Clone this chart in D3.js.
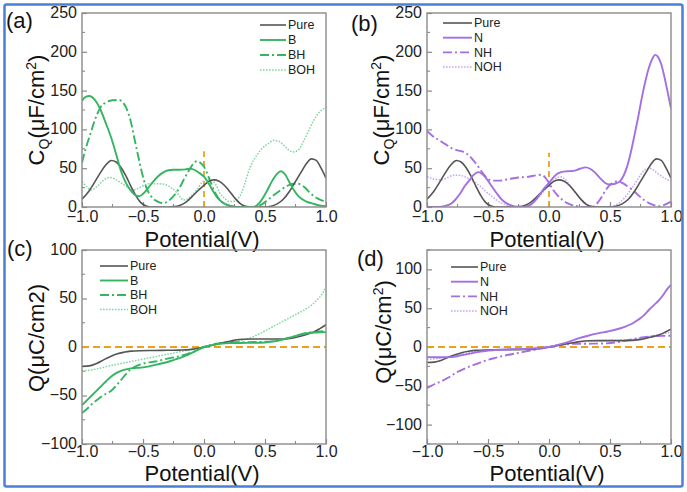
<!DOCTYPE html>
<html><head><meta charset="utf-8">
<script src="https://cdn.jsdelivr.net/npm/d3@7"></script>
<style>
html,body{margin:0;padding:0;background:#fff;}
svg{display:block;font-family:"Liberation Sans",Arial,sans-serif;}
</style></head>
<body>
<svg id="chart" width="687" height="492"></svg>
<script>
// ---------------- DATA ----------------
const xTickValues = [-1.0, -0.5, 0.0, 0.5, 1.0];
const cqTickValues = [0, 50, 100, 150, 200, 250];
const qTickValuesC = [-100, -50, 0, 50, 100];
const qTickValuesD = [-100, -50, 0, 50, 100];
const seriesNamesB = ["Pure", "B", "BH", "BOH"];
const seriesNamesN = ["Pure", "N", "NH", "NOH"];
const markerCqTopA = 72;
const markerCqTopB = 70;

const cqPure = [[-1,10],[-0.95,19],[-0.9,31],[-0.85,44],[-0.8,55],[-0.76,60],[-0.72,58],[-0.68,51],[-0.64,40],[-0.6,27],[-0.56,15],[-0.52,6],[-0.48,1.5],[-0.44,0],[-0.3,0],[-0.24,0.5],[-0.2,2],[-0.15,6],[-0.1,13],[-0.05,21],[0,28],[0.04,33],[0.08,35],[0.12,33.5],[0.16,29],[0.2,22],[0.25,12],[0.3,4],[0.35,0.5],[0.4,0],[0.5,0],[0.55,1],[0.6,4],[0.65,10],[0.7,20],[0.75,33],[0.8,46],[0.84,56],[0.88,62],[0.92,60],[0.96,50],[1,37]];
const cqB = [[-1,137],[-0.97,142],[-0.94,143],[-0.9,139],[-0.85,126],[-0.8,106],[-0.76,89],[-0.72,68],[-0.68,46],[-0.64,31],[-0.6,21],[-0.56,15],[-0.53,14],[-0.5,17],[-0.46,24],[-0.42,32],[-0.38,39],[-0.34,44],[-0.3,47],[-0.25,48],[-0.2,48],[-0.15,48.5],[-0.12,49.5],[-0.08,48],[-0.04,44],[0,39],[0.04,30],[0.08,19],[0.12,10],[0.16,5],[0.2,2],[0.25,0.5],[0.3,0],[0.4,0],[0.44,3],[0.48,11],[0.52,22],[0.56,34],[0.6,43],[0.63,46],[0.66,43],[0.7,32],[0.74,21],[0.78,13],[0.84,7],[0.9,4],[0.95,2],[1,1]];
const cqBH = [[-1,57],[-0.97,75],[-0.93,95],[-0.89,114],[-0.85,128],[-0.8,135],[-0.75,137.5],[-0.7,138],[-0.66,134],[-0.63,125],[-0.6,110],[-0.57,88],[-0.54,66],[-0.51,45],[-0.47,24],[-0.43,13],[-0.38,7],[-0.33,5],[-0.29,8],[-0.25,14],[-0.2,25],[-0.16,37],[-0.12,48],[-0.08,57],[-0.06,59],[-0.03,57],[0,52],[0.04,38],[0.08,22],[0.12,11],[0.16,5],[0.2,2],[0.25,0],[0.42,0],[0.47,3],[0.52,9],[0.57,15],[0.63,22],[0.68,27],[0.73,30],[0.77,30],[0.82,26],[0.87,18],[0.92,12],[0.96,9],[1,7]];
const cqBOH = [[-1,33],[-0.96,26],[-0.93,22],[-0.88,26],[-0.84,32],[-0.8,37],[-0.77,38],[-0.73,36],[-0.69,32],[-0.65,28],[-0.61,24],[-0.58,22],[-0.54,24],[-0.49,28],[-0.44,30],[-0.38,30],[-0.32,29],[-0.27,25],[-0.22,18],[-0.19,12],[-0.17,9],[-0.14,10],[-0.1,15],[-0.06,22],[-0.02,31],[0.02,35],[0.06,34.5],[0.1,28],[0.13,18],[0.17,11],[0.21,7],[0.25,7.5],[0.28,11],[0.31,19],[0.34,33],[0.38,52],[0.43,66],[0.48,76],[0.53,82],[0.57,86],[0.61,85],[0.65,80],[0.69,74],[0.73,71],[0.77,73],[0.82,86],[0.86,99],[0.9,112],[0.95,123],[1,128]];
const cqN = [[-1,0],[-0.9,0],[-0.85,1.5],[-0.8,4.5],[-0.77,9],[-0.73,17],[-0.69,27],[-0.65,35],[-0.62,41],[-0.58,45],[-0.55,43],[-0.51,36],[-0.47,27],[-0.43,18],[-0.39,10],[-0.35,5],[-0.31,2],[-0.27,0.5],[-0.2,0],[-0.16,2],[-0.12,7],[-0.08,15],[-0.04,24],[0,31],[0.03,37],[0.06,42],[0.1,45],[0.15,46],[0.2,46.5],[0.25,49],[0.3,51],[0.34,49],[0.38,44],[0.42,37],[0.46,31],[0.5,29],[0.54,30],[0.58,33],[0.61,40],[0.64,52],[0.67,70],[0.7,92],[0.73,115],[0.76,140],[0.79,162],[0.82,180],[0.85,192],[0.87,196],[0.89,194],[0.92,184],[0.95,165],[0.97,150],[1,127]];
const cqNH = [[-1,98],[-0.95,91],[-0.9,86],[-0.85,81],[-0.8,76],[-0.75,73],[-0.7,71],[-0.66,67],[-0.62,60],[-0.58,52],[-0.54,43],[-0.5,36],[-0.46,34],[-0.4,34],[-0.33,36],[-0.25,38],[-0.17,39],[-0.1,41],[-0.06,41.5],[-0.03,38],[0,31],[0.03,23],[0.07,15],[0.11,9],[0.15,5],[0.19,2.5],[0.23,1],[0.28,0],[0.36,0],[0.39,4],[0.42,10],[0.45,18],[0.49,27],[0.53,32],[0.56,33],[0.6,31],[0.65,26],[0.7,20],[0.74,14],[0.78,9],[0.82,5],[0.86,2.5],[0.9,1],[0.94,2.5],[1,7]];
const cqNOH = [[-1,39],[-0.94,36],[-0.88,35],[-0.83,38],[-0.78,41],[-0.74,41],[-0.69,39],[-0.64,35],[-0.59,30],[-0.55,25],[-0.51,19],[-0.47,14],[-0.43,9],[-0.39,5],[-0.35,2.5],[-0.3,0.5],[-0.22,0],[-0.17,2],[-0.13,6],[-0.09,12],[-0.05,19],[-0.01,27],[0.03,33],[0.07,38],[0.1,39],[0.13,36],[0.17,28],[0.21,20],[0.25,12],[0.29,6],[0.33,2],[0.38,0],[0.5,0],[0.54,2],[0.58,6],[0.62,12],[0.66,20],[0.7,29],[0.74,39],[0.78,47],[0.82,50],[0.86,47],[0.9,42],[0.95,37],[1,33]];

const qPure = [[-1,-20],[-0.94,-19.5],[-0.88,-17],[-0.82,-13],[-0.77,-10],[-0.71,-7],[-0.66,-5.5],[-0.6,-4.3],[-0.52,-3.8],[-0.4,-3.6],[-0.3,-3.4],[-0.2,-3.2],[-0.14,-3],[-0.08,-2],[0,0],[0.06,1.5],[0.11,3],[0.16,4.5],[0.22,6.2],[0.27,7.5],[0.32,8],[0.4,8.2],[0.5,8.2],[0.6,8.2],[0.68,8.5],[0.74,9.5],[0.79,11],[0.84,13],[0.9,15.5],[0.95,19],[1,23]];
const qB = [[-1,-60],[-0.96,-55],[-0.92,-50],[-0.88,-45],[-0.84,-40],[-0.8,-35],[-0.76,-30.5],[-0.72,-27],[-0.68,-24.5],[-0.64,-23],[-0.6,-22],[-0.55,-21.5],[-0.5,-21],[-0.45,-20],[-0.4,-18.5],[-0.35,-17],[-0.3,-15.5],[-0.25,-13.5],[-0.2,-11.5],[-0.15,-9],[-0.1,-6],[-0.05,-3],[0,0],[0.05,1.5],[0.1,2.8],[0.15,3.6],[0.2,4],[0.3,4.2],[0.4,4.3],[0.5,4.6],[0.56,5.5],[0.62,7],[0.68,9],[0.74,11],[0.8,13],[0.86,14.5],[0.92,15],[1,15.3]];
const qBH = [[-1,-68],[-0.96,-64],[-0.92,-59],[-0.88,-55],[-0.84,-51],[-0.8,-48],[-0.76,-45],[-0.72,-40],[-0.68,-34],[-0.64,-28],[-0.6,-23],[-0.56,-20],[-0.52,-18],[-0.48,-16.5],[-0.4,-15],[-0.3,-12],[-0.2,-9.5],[-0.1,-5.5],[0,0],[0.05,2],[0.1,3.5],[0.15,4.3],[0.25,5],[0.35,5],[0.45,5.2],[0.55,5.8],[0.62,7],[0.7,9.5],[0.78,12.5],[0.86,15],[0.93,16],[1,16.5]];
const qBOH = [[-1,-25],[-0.92,-23.5],[-0.84,-21.5],[-0.76,-19],[-0.68,-17],[-0.6,-15],[-0.5,-12.5],[-0.4,-10],[-0.3,-7.5],[-0.2,-5],[-0.1,-2.5],[0,0],[0.1,2.8],[0.2,5],[0.28,6.5],[0.34,8],[0.4,10.5],[0.46,14],[0.52,18],[0.58,22],[0.64,26],[0.7,30],[0.76,34],[0.82,38],[0.88,43],[0.93,49],[0.97,55],[1,62]];
const qN = [[-1,-13],[-0.9,-13.2],[-0.8,-13],[-0.74,-11.5],[-0.68,-9.5],[-0.62,-7.5],[-0.56,-5.8],[-0.5,-4.7],[-0.42,-3.6],[-0.3,-2.8],[-0.2,-2.5],[-0.1,-1.6],[0,0],[0.08,3],[0.16,6.5],[0.24,11],[0.32,14.5],[0.4,17.5],[0.48,20],[0.55,22.5],[0.62,26],[0.68,30],[0.73,35],[0.78,41],[0.82,48],[0.86,54],[0.9,60],[0.94,68],[0.97,75],[1,80]];
const qNH = [[-1,-53],[-0.94,-48],[-0.88,-44],[-0.82,-39],[-0.76,-33],[-0.7,-28.5],[-0.64,-24.5],[-0.58,-21],[-0.52,-17.5],[-0.44,-14],[-0.36,-11],[-0.28,-8.5],[-0.2,-6],[-0.1,-3],[0,0],[0.08,2.5],[0.16,3.8],[0.25,4.2],[0.35,4.3],[0.45,4.6],[0.55,6],[0.62,8],[0.7,10.5],[0.78,12.5],[0.86,13.8],[0.93,14.3],[1,14.5]];
const qNOH = [[-1,-16],[-0.9,-14.5],[-0.8,-12],[-0.7,-8.5],[-0.6,-5.5],[-0.5,-4],[-0.4,-3.3],[-0.3,-2.8],[-0.2,-2.3],[-0.1,-1.3],[0,0],[0.1,3],[0.2,5.5],[0.3,7],[0.4,8],[0.5,8.5],[0.6,9],[0.7,10],[0.8,13],[0.9,16],[1,19]];

// ---------------- STYLES ----------------
const colPure = "#555555", colG = "#35b462", colGL = "#7fd8a0", colP = "#a36fe3", colPL = "#c8a6f0", colOrange = "#e8a31b";
const styles = {
  Pure: {c: colPure, d: null, w: 1.6},
  B: {c: colG, d: null, w: 1.9},
  BH: {c: colG, d: "9,3,2,3", w: 1.9},
  BOH: {c: colGL, d: "1.6,1.4", w: 1.5},
  N: {c: colP, d: null, w: 1.9},
  NH: {c: colP, d: "9,3,2,3", w: 1.9},
  NOH: {c: colPL, d: "1.6,1.4", w: 1.5}
};

const svg = d3.select("#chart");
const defs = svg.append("defs");

const panels = [
  {id:"a", label:"(a)", lx:6, ly:28, box:[82,326,13,207], yDom:[0,250], yTicks:cqTickValues, minor:25,
   names:seriesNamesB, data:[cqPure,cqB,cqBH,cqBOH], type:"cq", mark:markerCqTopA,
   leg:{x1:260,x2:286,y0:25,dy:15}, xLabY:222, titleY:247, yTitleX:44, yTitleY:110},
  {id:"b", label:"(b)", lx:351, ly:31, box:[427,671,13,207], yDom:[0,250], yTicks:cqTickValues, minor:25,
   names:seriesNamesN, data:[cqPure,cqN,cqNH,cqNOH], type:"cq", mark:markerCqTopB,
   leg:{x1:443,x2:472,y0:23,dy:14.7}, xLabY:222, titleY:247, yTitleX:389, yTitleY:110},
  {id:"c", label:"(c)", lx:7, ly:256, box:[82,326,250,444], yDom:[-100,100], yTicks:qTickValuesC, minor:25,
   names:seriesNamesB, data:[qPure,qB,qBH,qBOH], type:"qc", mark:null,
   leg:{x1:100,x2:128,y0:266,dy:14.5}, xLabY:457, titleY:480.5, yTitleX:44, yTitleY:338},
  {id:"d", label:"(d)", lx:357, ly:266, box:[427,671,250,444], yDom:[-125,125], yTicks:qTickValuesD, minor:25,
   names:seriesNamesN, data:[qPure,qN,qNH,qNOH], type:"qd", mark:null,
   leg:{x1:451,x2:478,y0:267,dy:14.7}, xLabY:457, titleY:480.5, yTitleX:391, yTitleY:332}
];

const axisCol = "#8a8a8a";

panels.forEach(p => {
  const [L,R,T,B] = p.box;
  const x = d3.scaleLinear().domain([-1,1]).range([L,R]);
  const y = d3.scaleLinear().domain(p.yDom).range([B,T]);
  const g = svg.append("g");

  defs.append("clipPath").attr("id","clip"+p.id)
    .append("rect").attr("x",L).attr("y",T).attr("width",R-L).attr("height",B-T);

  const xMinor = d3.range(-0.75, 1, 0.5);
  const yMinor = d3.range(Math.ceil(p.yDom[0]/p.minor)*p.minor, p.yDom[1]+0.001, p.minor).filter(v => Math.abs(v % 50) > 1e-6);

  const xAxis = d3.axisBottom(x).tickValues(xTickValues).tickFormat(d3.format(".1f")).tickSizeInner(-5).tickSizeOuter(0);
  const yAxis = d3.axisLeft(y).tickValues(p.yTicks).tickFormat(d3.format("d")).tickSizeInner(-5).tickSizeOuter(0);
  const gx = g.append("g").attr("transform",`translate(0,${B})`).call(xAxis);
  const gy = g.append("g").attr("transform",`translate(${L},0)`).call(yAxis);
  [gx,gy].forEach(a => {
    a.select(".domain").remove();
    a.selectAll("line").attr("stroke",axisCol).attr("stroke-width",1.2);
    a.selectAll("text").attr("fill","#222").style("font-size","16px").style("font-family","'Liberation Sans',Arial,sans-serif");
  });
  gx.selectAll("text").attr("dy",null).attr("y", p.xLabY - B);
  gy.selectAll("text").attr("x",-5).attr("dy","0.28em");

  g.append("g").selectAll("line").data(xMinor).join("line")
    .attr("x1",d=>x(d)).attr("x2",d=>x(d)).attr("y1",B).attr("y2",B-3)
    .attr("stroke",axisCol).attr("stroke-width",1.1);
  g.append("g").selectAll("line").data(yMinor).join("line")
    .attr("x1",L).attr("x2",L+3).attr("y1",d=>y(d)).attr("y2",d=>y(d))
    .attr("stroke",axisCol).attr("stroke-width",1.1);

  const ref = g.append("g").attr("clip-path",`url(#clip${p.id})`);
  if (p.type === "cq") {
    ref.append("line").attr("x1",x(0)).attr("x2",x(0)).attr("y1",y(0)).attr("y2",y(p.mark))
      .attr("stroke",colOrange).attr("stroke-width",1.8).attr("stroke-dasharray","6,4");
  } else {
    ref.append("line").attr("x1",x(-1)).attr("x2",x(1)).attr("y1",y(0)).attr("y2",y(0))
      .attr("stroke",colOrange).attr("stroke-width",1.8).attr("stroke-dasharray","7,4");
  }

  const line = d3.line().x(d=>x(d[0])).y(d=>y(d[1])).curve(d3.curveMonotoneX);
  const lg = g.append("g").attr("clip-path",`url(#clip${p.id})`);
  const order = [3,2,0,1];
  order.forEach(i => {
    const s = styles[p.names[i]];
    lg.append("path").datum(p.data[i]).attr("d",line)
      .attr("fill","none").attr("stroke",s.c).attr("stroke-width",s.w)
      .attr("stroke-dasharray",s.d).attr("stroke-linejoin","round");
  });

  g.append("rect").attr("x",L).attr("y",T).attr("width",R-L).attr("height",B-T)
    .attr("fill","none").attr("stroke",axisCol).attr("stroke-width",1.4);

  p.names.forEach((n,i) => {
    const s = styles[n];
    const yy = p.leg.y0 + i*p.leg.dy;
    g.append("line").attr("x1",p.leg.x1).attr("x2",p.leg.x2).attr("y1",yy).attr("y2",yy)
      .attr("stroke",s.c).attr("stroke-width",s.w).attr("stroke-dasharray",s.d);
    g.append("text").attr("x",p.leg.x2+2).attr("y",yy+4.3).text(n)
      .attr("fill","#222").style("font-size","12.5px");
  });

  g.append("text").attr("x",(L+R)/2 - 2).attr("y",p.titleY).attr("text-anchor","middle")
    .style("font-size","22px").attr("fill","#111").text("Potential(V)");

  const yt = g.append("text").attr("transform",`translate(${p.yTitleX},${p.yTitleY}) rotate(-90)`)
    .attr("text-anchor","middle").style("font-size","22px").attr("fill","#111");
  if (p.type === "cq") {
    yt.append("tspan").text("C");
    yt.append("tspan").attr("dy",5).style("font-size","14px").text("Q");
    yt.append("tspan").attr("dy",-5).text("(μF/cm");
    yt.append("tspan").attr("dy",-8).style("font-size","14px").text("2");
    yt.append("tspan").attr("dy",8).text(")");
  } else if (p.type === "qc") {
    yt.text("Q(μC/cm2)");
  } else {
    yt.append("tspan").text("Q(μC/cm");
    yt.append("tspan").attr("dy",-8).style("font-size","14px").text("2");
    yt.append("tspan").attr("dy",8).text(")");
  }

  g.append("text").attr("x",p.lx).attr("y",p.ly).style("font-size","22px").attr("fill","#111").text(p.label);
});

svg.append("rect").attr("x",4.5).attr("y",4.5).attr("width",678).attr("height",482)
  .attr("fill","none").attr("stroke","#4a7fd6").attr("stroke-width",2.5).attr("rx",2);
</script>
</body></html>
